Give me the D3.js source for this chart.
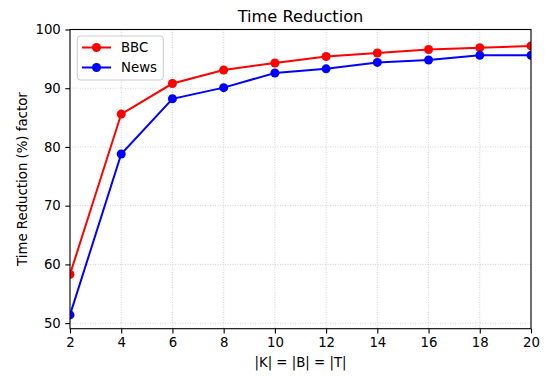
<!DOCTYPE html>
<html><head><meta charset="utf-8">
<script src="https://cdn.jsdelivr.net/npm/d3@7"></script>
<style>body{margin:0;background:#fff}svg{display:block}text{font-family:"DejaVu Sans",sans-serif}</style>
</head><body><svg id="c" width="545" height="376"></svg>
<script>
const xValues = [2,4,6,8,10,12,14,16,18,20];
const bbcValues = [58.3,85.6,90.8,93.1,94.3,95.4,96.0,96.6,96.9,97.2];
const newsValues = [51.4,78.8,88.2,90.1,92.6,93.3,94.4,94.8,95.6,95.6];
const xTicks = [2,4,6,8,10,12,14,16,18,20];
const yTicks = [50,60,70,80,90,100];
const seriesNames = ["BBC","News"];
const seriesColors = ["#ff0000","#0000ff"];

const svg = d3.select("#c");
const L=70, R=531, T=29.5, B=328.7;
const x = d3.scaleLinear().domain([2,20]).range([L,R]);
const y = d3.scaleLinear().domain([49.05,100]).range([B,T]);

// grid
const g = svg.append("g");
g.selectAll(".gx").data(xTicks).join("line")
  .attr("x1",d=>x(d)).attr("x2",d=>x(d)).attr("y1",T).attr("y2",B)
  .attr("stroke","#b0b0b0").attr("stroke-width",0.8).attr("stroke-dasharray","1,1.5").attr("opacity",0.7);
g.selectAll(".gy").data(yTicks).join("line")
  .attr("y1",d=>y(d)).attr("y2",d=>y(d)).attr("x1",L).attr("x2",R)
  .attr("stroke","#b0b0b0").attr("stroke-width",0.8).attr("stroke-dasharray","1,1.5").attr("opacity",0.7);

svg.append("clipPath").attr("id","clip").append("rect")
  .attr("x",L).attr("y",T).attr("width",R-L).attr("height",B-T);

const series = [bbcValues,newsValues];
const line = d3.line().x((d,i)=>x(xValues[i])).y(d=>y(d));
const plot = svg.append("g").attr("clip-path","url(#clip)");
series.forEach((vals,si)=>{
  plot.append("path").datum(vals).attr("d",line).attr("fill","none")
    .attr("stroke",seriesColors[si]).attr("stroke-width",2);
  plot.selectAll(null).data(vals).join("circle")
    .attr("cx",(d,i)=>x(xValues[i])).attr("cy",d=>y(d)).attr("r",4.5)
    .attr("fill",seriesColors[si]);
});

// axes
const xAxis = svg.append("g").attr("transform",`translate(0,${B})`)
  .call(d3.axisBottom(x).tickValues(xTicks).tickSize(4.7).tickPadding(4.5).tickFormat(d3.format("d")));
const yAxis = svg.append("g").attr("transform",`translate(${L},0)`)
  .call(d3.axisLeft(y).tickValues(yTicks).tickSize(4.7).tickPadding(4.5).tickFormat(d3.format("d")));
[xAxis,yAxis].forEach(a=>{
  a.select(".domain").remove();
  a.selectAll("text").attr("font-size",13.3).attr("fill","#000").style("font-family","DejaVu Sans");
  a.selectAll("line").attr("stroke","#000").attr("stroke-width",1.1);
});
svg.append("rect").attr("x",L).attr("y",T).attr("width",R-L).attr("height",B-T)
  .attr("fill","none").attr("stroke","#000").attr("stroke-width",1.1);

// labels
svg.append("text").attr("x",(L+R)/2).attr("y",22.3).attr("text-anchor","middle")
  .attr("font-size",16.2).text("Time Reduction");
svg.append("text").attr("x",(L+R)/2).attr("y",367).attr("text-anchor","middle")
  .attr("font-size",13.3).text("|K| = |B| = |T|");
svg.append("text").attr("transform",`translate(27,${(T+B)/2}) rotate(-90)`).attr("text-anchor","middle")
  .attr("font-size",13.3).text("Time Reduction (%) factor");

// legend
const lg = svg.append("g");
lg.append("rect").attr("x",77.3).attr("y",36).attr("width",86).attr("height",44).attr("rx",3)
  .attr("fill","#fff").attr("fill-opacity",0.8).attr("stroke","#cccccc").attr("stroke-width",1);
seriesNames.forEach((n,i)=>{
  const yy = 47.5 + i*20;
  lg.append("line").attr("x1",82).attr("x2",111).attr("y1",yy).attr("y2",yy)
    .attr("stroke",seriesColors[i]).attr("stroke-width",2);
  lg.append("circle").attr("cx",96.5).attr("cy",yy).attr("r",4.5).attr("fill",seriesColors[i]);
  lg.append("text").attr("x",121).attr("y",yy).attr("dy","0.36em").attr("font-size",13.3).text(n);
});
</script></body></html>
